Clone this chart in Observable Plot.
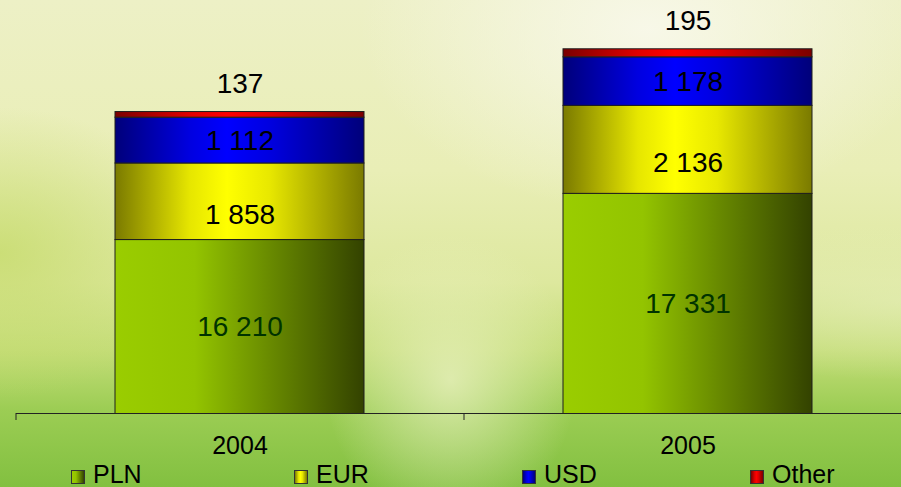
<!DOCTYPE html>
<html><head><meta charset="utf-8">
<script src="https://cdn.jsdelivr.net/npm/d3@7"></script>
<script src="https://cdn.jsdelivr.net/npm/@observablehq/plot@0.6"></script>
<style>
html,body{margin:0;padding:0;overflow:hidden;}
#wrap{position:relative;width:901px;height:487px;overflow:hidden;font-family:"Liberation Sans",Arial,sans-serif;
background:
 radial-gradient(ellipse 32% 38% at 72% 6%, rgba(248,248,234,0.95), rgba(248,248,234,0) 100%),
 radial-gradient(ellipse 22% 30% at 0% 52%, rgba(196,218,104,0.75), rgba(196,218,104,0) 100%),
 radial-gradient(ellipse 14% 30% at 50% 78%, rgba(236,242,196,0.75), rgba(236,242,196,0) 100%),
 radial-gradient(ellipse 30% 16% at 100% 62%, rgba(230,238,186,0.6), rgba(230,238,186,0) 100%),
 linear-gradient(180deg, #edf0c6 0%, #e9eeb6 35%, #dde89e 58%, #c4dd78 72%, #9ccd54 84%, #82c040 100%);}
#legend{position:relative;width:901px;height:25px;}
.item{position:absolute;top:0;height:25px;}
.sw{position:absolute;left:0;top:8px;width:14px;height:14px;border:1px solid #333;box-sizing:border-box;}
.lb{position:absolute;left:22px;top:0px;font-size:25px;line-height:25px;color:#000;white-space:nowrap;}
</style></head>
<body><div id="wrap"><div id="chart"></div><div id="legend"></div></div>
<script>
const years = ["2004", "2005"];
const currencies = ["PLN", "EUR", "USD", "Other"];
const PLN = [16210, 17331];
const EUR = [1858, 2136];
const USD = [1112, 1178];
const Other = [137, 195];
const yDomain = [12000, 22000];

const series = {PLN, EUR, USD, Other};
const gradients = {
  PLN: [[0, "#9acd00"], [0.32, "#93c400"], [1, "#334200"]],
  EUR: [[0, "#7a7a00"], [0.3, "#e6e600"], [0.45, "#ffff00"], [0.62, "#e8e800"], [1, "#7a7a00"]],
  USD: [[0, "#00007a"], [0.3, "#0000e0"], [0.45, "#0000ff"], [0.62, "#0000e0"], [1, "#00007a"]],
  Other: [[0, "#7a0000"], [0.3, "#e00000"], [0.45, "#ff0000"], [0.62, "#e00000"], [1, "#7a0000"]]
};

const rows = [];
years.forEach((year, i) => {
  let acc = 0;
  currencies.forEach(c => {
    const v = series[c][i];
    rows.push({year, currency: c, value: v, y1: acc, y2: acc + v});
    acc += v;
  });
});
const fmt = v => d3.format(",")(v).replace(/,/g, " ");
const mid = d => (Math.max(d.y1, yDomain[0]) + d.y2) / 2;
const by = c => rows.filter(d => d.currency === c);

const plot = Plot.plot({
  width: 901,
  height: 462,
  marginTop: 1,
  marginBottom: 49,
  marginLeft: 16,
  marginRight: 0,
  style: {background: "transparent", fontFamily: "'Liberation Sans', Arial, sans-serif", color: "#000", overflow: "visible"},
  x: {domain: years, range: [16, 912], paddingInner: 0.444, paddingOuter: 0.222, axis: null, label: null},
  y: {domain: yDomain, axis: null},
  color: {domain: currencies, range: currencies.map(c => `url(#grad-${c})`)},
  marks: [
    Plot.barY(rows, {x: "year", y: "value", fill: "currency", stroke: "#1e1e1e", strokeWidth: 1, clip: true}),
    Plot.ruleY([yDomain[0]], {stroke: "#222", strokeWidth: 1}),
    Plot.axisX({text: null, tickSize: 7, dx: -224, stroke: "#222", label: null}),
    Plot.axisX({tickSize: 0, tickPadding: 23, fontSize: 25, fill: "#000", label: null}),
    Plot.text(by("PLN"), {x: "year", y: mid, text: d => fmt(d.value), fill: "#003300", fontSize: 28}),
    Plot.text(by("EUR"), {x: "year", y: mid, text: d => fmt(d.value), fill: "#000", fontSize: 28, dy: 13}),
    Plot.text(by("USD"), {x: "year", y: mid, text: d => fmt(d.value), fill: "#000", fontSize: 28}),
    Plot.text(by("Other"), {x: "year", y: "y2", text: d => fmt(d.value), fill: "#000", fontSize: 28, dy: -28})
  ]
});

const defs = d3.select(plot).insert("defs", ":first-child");
currencies.forEach(c => {
  const g = defs.append("linearGradient").attr("id", `grad-${c}`)
    .attr("x1", "0%").attr("x2", "100%").attr("y1", "0%").attr("y2", "0%");
  gradients[c].forEach(([o, col]) => g.append("stop").attr("offset", o).attr("stop-color", col));
});
document.getElementById("chart").appendChild(plot);

const legendLefts = [71, 294, 522, 750];
const legend = d3.select("#legend");
currencies.forEach((c, i) => {
  const it = legend.append("div").attr("class", "item").style("left", legendLefts[i] + "px");
  it.append("div").attr("class", "sw")
    .style("background", `linear-gradient(90deg, ${gradients[c].map(([o, col]) => `${col} ${o * 100}%`).join(", ")})`);
  it.append("div").attr("class", "lb").text(c);
});
</script>
</body></html>
